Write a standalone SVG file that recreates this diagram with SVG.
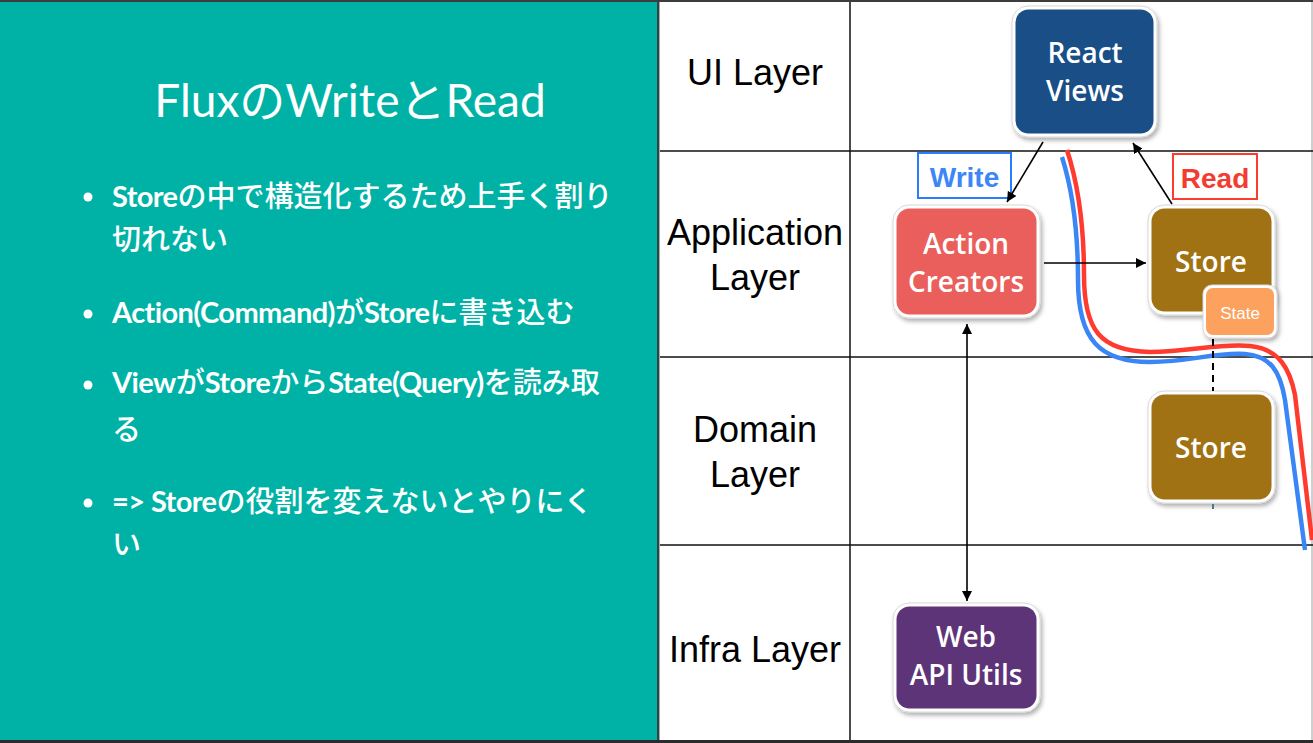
<svg xmlns="http://www.w3.org/2000/svg" width="1313" height="743" viewBox="0 0 1313 743">
<defs>
<style>
.title{font-family:"Lato","Noto Sans CJK JP",sans-serif;font-size:46px;fill:#fff;font-weight:400}
.bul{font-family:"Noto Sans CJK JP","Lato",sans-serif;font-size:29px;fill:#fff;font-weight:500}
.lt{font-family:"Lato","Noto Sans CJK JP",sans-serif;font-weight:700;letter-spacing:-0.6px}
.lay{font-family:"Liberation Sans",Arial,sans-serif;font-size:36px;fill:#000;text-anchor:middle}
.nt{font-family:"Open Sans","Liberation Sans",sans-serif;font-size:28px;fill:#fff;font-weight:600;text-anchor:middle}
.grid{stroke:#111;stroke-width:1.5;fill:none}
.outer{fill:#fff;stroke:#d8d8d8;stroke-width:1;filter:url(#sh)}
.conn{stroke:#000;stroke-width:1.6;fill:none}
.lbl{font-family:"Liberation Sans",Arial,sans-serif;font-size:28px;font-weight:700;text-anchor:middle}
</style>
<filter id="sh" x="-10%" y="-10%" width="125%" height="125%">
<feDropShadow dx="2" dy="3" stdDeviation="2" flood-color="#000" flood-opacity="0.3"/>
</filter>
<marker id="ah" viewBox="0 0 10 10" refX="10" refY="5" markerWidth="10" markerHeight="10" markerUnits="userSpaceOnUse" orient="auto-start-reverse">
<path d="M0,0 L10,5 L0,10 z" fill="#000"/>
</marker>
</defs>

<rect x="0" y="0" width="1313" height="743" fill="#fff"/>
<rect x="0" y="0" width="658" height="743" fill="#00B2A6"/>
<rect x="657" y="0" width="2" height="743" fill="#2c4644"/>
<rect x="659" y="0" width="1" height="743" fill="#a8a8a8"/>
<rect x="1311" y="0" width="2" height="743" fill="#cfcfcf"/>
<rect x="0" y="0" width="1313" height="2" fill="#3c3c3c"/>
<rect x="0" y="740" width="1313" height="3" fill="#2b2b2b"/>

<g id="slide-text">
<text class="title" x="350" y="117" text-anchor="middle">FluxのWriteとRead</text>
<circle cx="88" cy="197" r="4.5" fill="#fff"/>
<text class="bul" x="112" y="207"><tspan class="lt">Store</tspan>の中で構造化するため上手く割り</text>
<text class="bul" x="112" y="250">切れない</text>
<circle cx="88" cy="314" r="4.5" fill="#fff"/>
<text class="bul" x="112" y="323"><tspan class="lt">Action(Command)</tspan>が<tspan class="lt">Store</tspan>に書き込む</text>
<circle cx="88" cy="385" r="4.5" fill="#fff"/>
<text class="bul" x="112" y="393"><tspan class="lt">View</tspan>が<tspan class="lt">Store</tspan>から<tspan class="lt">State(Query)</tspan>を読み取</text>
<text class="bul" x="112" y="440">る</text>
<circle cx="88" cy="503" r="4.5" fill="#fff"/>
<text class="bul" x="112" y="512"><tspan class="lt">=&gt; Store</tspan>の役割を変えないとやりにく</text>
<text class="bul" x="112" y="555">い</text>
</g>

<g id="grid">
<line class="grid" x1="660" y1="151" x2="1313" y2="151"/>
<line class="grid" x1="660" y1="357" x2="1313" y2="357"/>
<line class="grid" x1="660" y1="545" x2="1313" y2="545"/>
<line class="grid" x1="850" y1="2" x2="850" y2="740"/>
</g>

<g id="layer-labels">
<text class="lay" x="755" y="85">UI Layer</text>
<text class="lay" x="755" y="245">Application</text>
<text class="lay" x="755" y="290">Layer</text>
<text class="lay" x="755" y="442">Domain</text>
<text class="lay" x="755" y="487">Layer</text>
<text class="lay" x="755" y="662">Infra Layer</text>
</g>

<g id="flow-lines">
<path d="M1067,150 C1080,190 1084,230 1084,275 C1084,330 1100,351 1150,352 C1190,352 1220,343 1250,346 C1280,349 1290,370 1295,395 L1312,540" stroke="#FF3B30" stroke-width="4.5" fill="none"/>
<path d="M1062,157 C1074,195 1078,235 1078,280 C1078,340 1100,362 1150,362 C1190,362 1215,352 1245,354 C1270,356 1280,370 1285,400 L1305,550" stroke="#3A86F7" stroke-width="4.5" fill="none"/>
</g>

<g id="node-react-views">
<rect class="outer" x="1012" y="6" width="145" height="131" rx="16"/>
<rect x="1015.5" y="9.5" width="138" height="124" rx="13" fill="#194F86"/>
<text class="nt" x="1085" y="63">React</text>
<text class="nt" x="1085" y="101">Views</text>
</g>

<g id="node-action-creators">
<rect class="outer" x="893" y="205" width="147" height="113" rx="16"/>
<rect x="896.5" y="208.5" width="140" height="106" rx="13" fill="#EA5F5B"/>
<text class="nt" x="966" y="254">Action</text>
<text class="nt" x="966" y="292">Creators</text>
</g>

<g id="node-store-app">
<rect class="outer" x="1148" y="205" width="127" height="110" rx="16"/>
<rect x="1151.5" y="208.5" width="120" height="103" rx="13" fill="#A07213"/>
<text class="nt" x="1211" y="272">Store</text>
</g>

<g id="node-state">
<rect class="outer" x="1203" y="285" width="74" height="53" rx="9"/>
<rect x="1206" y="288" width="68" height="47" rx="7" fill="#FDA15F"/>
<text x="1240" y="319" font-family="'Liberation Sans',Arial,sans-serif" font-size="17" fill="#fff" text-anchor="middle">State</text>
</g>

<g id="node-store-domain">
<rect class="outer" x="1148" y="391" width="127" height="112" rx="16"/>
<rect x="1151.5" y="394.5" width="120" height="105" rx="13" fill="#A07213"/>
<text class="nt" x="1211" y="458">Store</text>
</g>

<g id="node-web-api">
<rect class="outer" x="893" y="603" width="147" height="109" rx="16"/>
<rect x="896.5" y="606.5" width="140" height="102" rx="13" fill="#5E3479"/>
<text class="nt" x="966" y="647">Web</text>
<text class="nt" x="966" y="685">API Utils</text>
</g>

<g id="label-write">
<rect x="918" y="153" width="93" height="45" fill="#fff" stroke="#2A7BFF" stroke-width="2"/>
<text class="lbl" x="964.5" y="187" fill="#3D86F5">Write</text>
</g>

<g id="label-read">
<rect x="1173" y="154" width="84" height="45" fill="#fff" stroke="#FF3B2F" stroke-width="2"/>
<text class="lbl" x="1215" y="188" fill="#F43B30">Read</text>
</g>

<g id="connectors">
<line class="conn" x1="1043" y1="142" x2="1007" y2="202" marker-end="url(#ah)"/>
<line class="conn" x1="1172" y1="204" x2="1133" y2="143" marker-end="url(#ah)"/>
<line class="conn" x1="1044" y1="263" x2="1146" y2="263" marker-end="url(#ah)"/>
<line class="conn" x1="967" y1="324" x2="967" y2="601" marker-start="url(#ah)" marker-end="url(#ah)"/>
<line x1="1213" y1="339" x2="1213" y2="391" stroke="#000" stroke-width="2" stroke-dasharray="7,5"/>
<line x1="1213" y1="504" x2="1213" y2="509" stroke="#4a7a80" stroke-width="2"/>
</g>
</svg>
